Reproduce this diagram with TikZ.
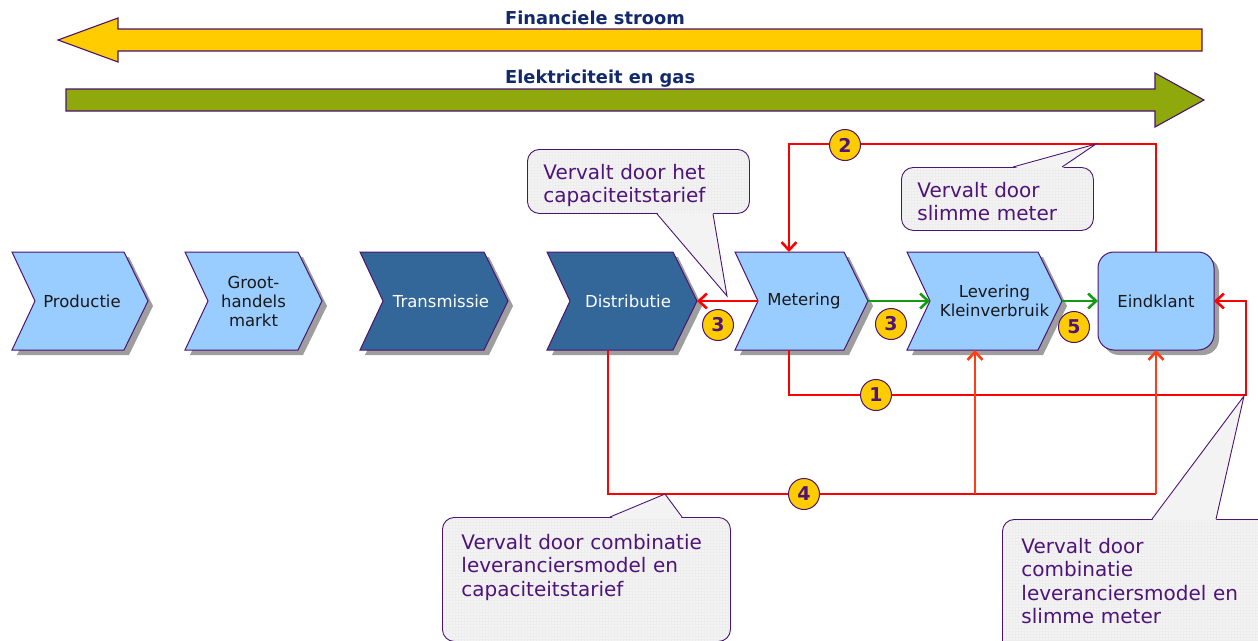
\documentclass[tikz,border=0pt]{standalone}
\usepackage{fontspec}
\setmainfont{DejaVu Sans}
\usetikzlibrary{arrows.meta,shadows,backgrounds}

\definecolor{lblue}{HTML}{99CCFF}
\definecolor{dblue}{HTML}{336699}
\definecolor{edge}{HTML}{4B1470}
\definecolor{navy}{HTML}{12296B}
\definecolor{goldy}{HTML}{FFCC00}
\definecolor{elecgreen}{HTML}{8FA80C}
\definecolor{calltext}{HTML}{4E1478}
\definecolor{callfill}{HTML}{F3F3F3}
\definecolor{flowred}{HTML}{FF0000}
\definecolor{uporange}{HTML}{FF3D14}
\definecolor{flowgreen}{HTML}{139A13}

\tikzset{
  heading/.style={font=\bfseries\fontsize{17.8}{20}\selectfont, text=navy, inner sep=0pt},
  bigarrow/.style={draw=edge, line width=1.1pt},
  dropgray/.style={drop shadow={shadow xshift=5pt, shadow yshift=-5pt, fill=black!38, opacity=1}},
  stage/.style={minimum height=98pt, inner sep=0pt, outer sep=0pt, align=center,
    text=black!90, font=\fontsize{16.5}{19}\selectfont},
  stageline/.style={draw=edge, line width=1pt},
  endbox/.style={draw=edge, line width=1pt, fill=lblue, rounded corners=16pt, minimum width=116pt,
    minimum height=98pt, inner sep=0pt, outer sep=0pt, text=black!90, font=\fontsize{16.5}{19}\selectfont, dropgray},
  barb/.style={-{Straight Barb[length=8pt,width=15pt]}},
  redflow/.style={draw=flowred, line width=2.6pt},
  upflow/.style={draw=uporange, line width=2.6pt},
  greenflow/.style={draw=flowgreen, line width=2.6pt},
  badge/.style={circle, draw=edge, line width=1pt, fill=goldy, minimum size=31pt, inner sep=0pt,
    text=calltext, font=\bfseries\fontsize{19}{19}\selectfont},
  notebox/.style={draw=edge, line width=0.9pt, fill=callfill, rounded corners=12pt, align=left,
    text=calltext, inner ysep=0pt, inner xsep=16pt, anchor=north west,
    font=\fontsize{20}{23.5}\selectfont,
    path picture={\draw[black!7, line width=0.3pt, step=3pt] (path picture bounding box.south west) grid (path picture bounding box.north east);}},
  pointer/.style={draw=edge, line width=0.9pt, line join=miter},
}

\begin{document}
\begin{tikzpicture}[x=1pt,y=-1pt]
\useasboundingbox (0,0) rectangle (1258,640);
\clip (0,0) rectangle (1258,640);

% Money and energy flows.
\draw[bigarrow, fill=goldy] (1202,29) -- (118,29) -- (118,18) -- (58,40) -- (118,62) -- (118,51) -- (1202,51) -- cycle;
\draw[bigarrow, fill=elecgreen] (66,89) -- (1155,89) -- (1155,73) -- (1204,100) -- (1155,127) -- (1155,111) -- (66,111) -- cycle;
\node[heading, anchor=base west] (fin) at (505,24) {Financiele stroom};
\node[heading, anchor=base west] (elec) at (505,83) {Elektriciteit en gas};

% Value chain (text nudged right with hspace).
\node[stage, minimum width=136pt] (prod) at (80,301) {\hspace*{4pt}Productie};
\node[stage, minimum width=137pt] (groot) at (253.5,301) {Groot-\\handels\\markt};
\node[stage, minimum width=148pt, text=white] (trans) at (434,301) {\hspace*{14pt}Transmissie};
\node[stage, minimum width=150pt, text=white] (dist) at (622,301) {\hspace*{12pt}Distributie};
\node[stage, minimum width=133pt] (met) at (801.5,301) {\hspace*{5pt}Metering};
\node[stage, minimum width=155pt] (lev) at (984.5,301) {\hspace*{20pt}Levering\\\hspace*{20pt}Kleinverbruik};
\node[endbox] (eind) at (1156,301) {Eindklant};

\begin{scope}[on background layer]
  \foreach \n/\c in {prod/lblue, groot/lblue, trans/dblue, dist/dblue, met/lblue, lev/lblue}
    \draw[stageline, fill=\c, dropgray] (\n.north west) -- ([xshift=-24pt]\n.north east) -- (\n.east)
      -- ([xshift=-24pt]\n.south east) -- (\n.south west) -- ([xshift=23pt]\n.west) -- cycle;
\end{scope}

% Red lines.
\coordinate (j4a) at (975,494);
\coordinate (j4b) at (1156,494);
\draw[redflow, barb] ([xshift=23pt]met.west) -- (dist.east);
\draw[redflow, barb] (eind.north) -- ++(0,-108) -| ([xshift=-12.5pt]met.north);
\draw[redflow, barb] ([xshift=-12.5pt]met.south) |- (1246,395) |- (eind.east);
\draw[redflow] ([xshift=-14pt]dist.south) |- (j4b);
\draw[upflow, barb] (j4a) -- ([xshift=-9.5pt]lev.south);
\draw[upflow, barb] (j4b) -- (eind.south);

% Green lines.
\draw[greenflow, barb] (met.east) -- ([xshift=23pt]lev.west);
\draw[greenflow, barb] (lev.east) -- (eind.west);

% Numbers.
\node[badge] (b2) at (845,145) {2};
\node[badge] (b1) at (876,395) {1};
\node[badge] (b4) at (804,494) {4};
\node[badge] (b3a) at (718,325) {3};
\node[badge] (b3b) at (891,324) {3};
\node[badge] (b5) at (1074,327) {5};

% Callouts.
\coordinate (tip1) at (727,296);
\coordinate (tip2) at (1096,144);
\coordinate (tip3) at (665,494);
\coordinate (tip4) at (1244,396);

\node[notebox, text width=190pt, text height=30pt, text depth=34pt] (note1) at (527,149) {Vervalt door het\\capaciteitstarief};
\fill[callfill] ([xshift=130pt,yshift=1.5pt]note1.south west) -- (tip1) -- ([xshift=186pt,yshift=1.5pt]note1.south west) -- cycle;
\draw[pointer] ([xshift=130pt]note1.south west) -- (tip1) -- ([xshift=186pt]note1.south west);

\node[notebox, text width=160pt, text height=30pt, text depth=33pt] (note2) at (901,167) {Vervalt door\\slimme meter};
\fill[callfill] ([xshift=112pt,yshift=-1.5pt]note2.north west) -- (tip2) -- ([xshift=161pt,yshift=-1.5pt]note2.north west) -- cycle;
\draw[pointer] ([xshift=112pt]note2.north west) -- (tip2) -- ([xshift=161pt]note2.north west);

\node[notebox, inner xsep=19pt, text width=250pt, text height=32pt, text depth=92pt] (note3) at (442,517) {Vervalt door combinatie\\leveranciersmodel en\\capaciteitstarief};
\fill[callfill] ([xshift=168pt,yshift=-1.5pt]note3.north west) -- (tip3) -- ([xshift=240pt,yshift=-1.5pt]note3.north west) -- cycle;
\draw[pointer] ([xshift=168pt]note3.north west) -- (tip3) -- ([xshift=240pt]note3.north west);

\node[notebox, inner xsep=19pt, text width=240pt, text height=34pt, text depth=107pt] (note4) at (1002,519) {Vervalt door\\combinatie\\leveranciersmodel en\\slimme meter};
\fill[callfill] ([xshift=150pt,yshift=-1.5pt]note4.north west) -- (tip4) -- ([xshift=214pt,yshift=-1.5pt]note4.north west) -- cycle;
\draw[pointer] ([xshift=150pt]note4.north west) -- (tip4) -- ([xshift=214pt]note4.north west);
\end{tikzpicture}
\end{document}
